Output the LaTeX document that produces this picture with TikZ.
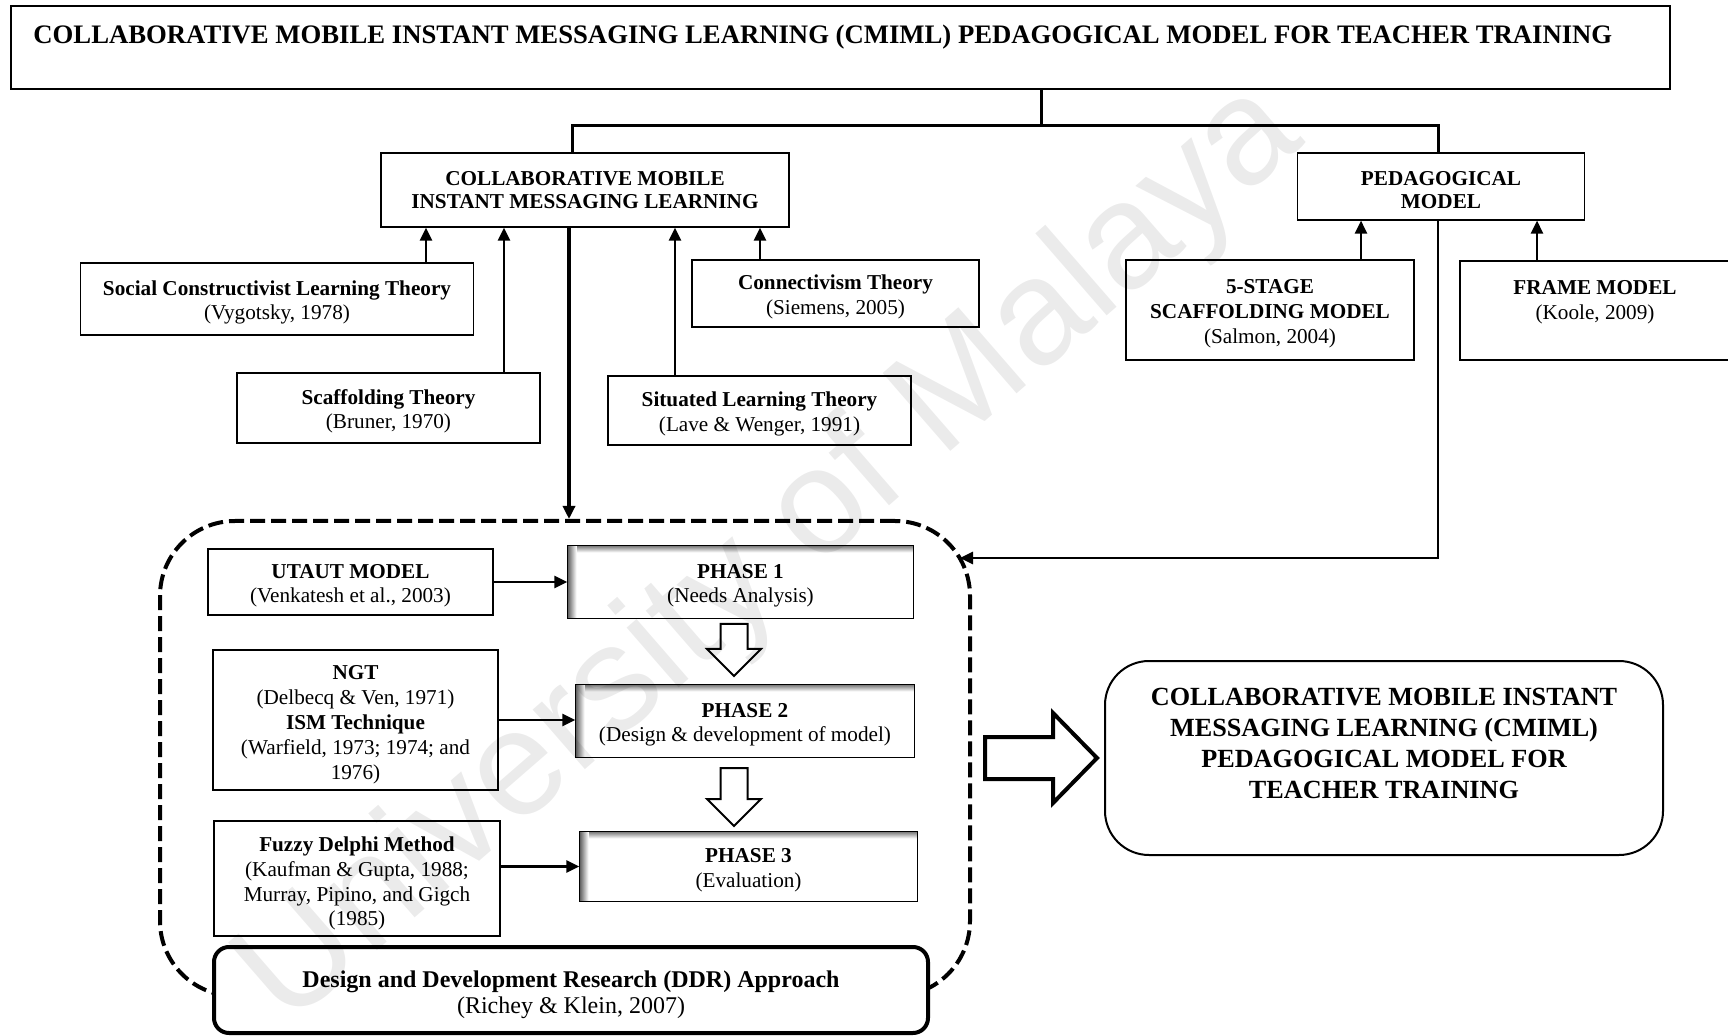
\documentclass[tikz,border=0pt]{standalone}
\usepackage{fontspec}
\setmainfont{Liberation Serif}
\newfontfamily\markfont{Liberation Sans}
\usetikzlibrary{arrows.meta}

% a strut on the first line pushes the text down a little
\newcommand{\lowered}[1][10.7pt]{\rule{0pt}{#1}}

\tikzset{
    box/.style={draw, line width=0.6pt, align=center, inner sep=0pt,
        font=\fontsize{10.6}{12.4}\selectfont},
    headbox/.style={box, font=\bfseries\fontsize{10.6}{11.5}\selectfont},
    conn/.style={line width=1.5pt},
    arr/.style={line width=1.3pt, -{Triangle[width=6pt,length=6.5pt]}},
    hollow/.style={draw, fill=white, line join=miter},
}

\begin{document}
\begin{tikzpicture}[x=0.5pt, y=-0.5pt]
    \useasboundingbox (0,0) rectangle (1728,1036);

    % The title
    \node[draw, line width=1pt, minimum width=829.5pt, minimum height=41.5pt] (titlebox) at (840.5,47.5) {};
    \node[anchor=west, inner sep=0pt, font=\bfseries\fontsize{13.35}{15}\selectfont] (title) at (33,37)
        {COLLABORATIVE MOBILE INSTANT MESSAGING LEARNING (CMIML) PEDAGOGICAL MODEL FOR TEACHER TRAINING};

    % The two parts
    \node[headbox, minimum width=204pt, minimum height=37pt] (cmil) at (585,190)
        {COLLABORATIVE MOBILE\\INSTANT MESSAGING LEARNING};
    \node[headbox, minimum width=143.5pt, minimum height=33.5pt] (ped) at (1441,186.5)
        {\lowered[10.3pt]PEDAGOGICAL\\MODEL};

    % The theories
    \node[box, minimum width=196.5pt, minimum height=36pt] (social) at (277,299)
        {\lowered\textbf{Social Constructivist Learning Theory}\\(Vygotsky, 1978)};
    \node[box, minimum width=151.5pt, minimum height=35pt] (scaff) at (388.5,408)
        {\lowered\textbf{Scaffolding Theory}\\(Bruner, 1970)};
    \node[box, minimum width=143.5pt, minimum height=33.5pt] (connect) at (835.5,293.5)
        {\lowered\textbf{Connectivism Theory}\\(Siemens, 2005)};
    \node[box, minimum width=151.5pt, minimum height=34.5pt] (situ) at (759.5,410.5)
        {\lowered\textbf{Situated Learning Theory}\\(Lave \& Wenger, 1991)};

    % The models
    \node[box, minimum width=144pt, minimum height=50pt] (stage) at (1270,310)
        {\lowered\textbf{5-STAGE}\\\textbf{SCAFFOLDING MODEL}\\(Salmon, 2004)};
    \node[box, minimum width=142.5pt, minimum height=49.5pt] (framebox) at (1602.5,310.5) {};
    \node[align=center, inner sep=0pt, font=\fontsize{10.6}{12.4}\selectfont] (frametext) at (1595,302)
        {\textbf{FRAME MODEL}\\(Koole, 2009)};

    % The DDR frame
    \node[draw, line width=2pt, dash pattern=on 7.5pt off 3pt, rounded corners=37.5pt,
        minimum width=405pt, minimum height=237.5pt] (frame) at (565,758.5) {};

    % The methods
    \node[box, minimum width=142.5pt, minimum height=33pt] (utaut) at (350.5,582)
        {\lowered\textbf{UTAUT MODEL}\\(Venkatesh et al., 2003)};
    \node[box, minimum width=142.5pt, minimum height=70pt] (ngt) at (355.5,720)
        {\lowered[11.8pt]\textbf{NGT}\\(Delbecq \& Ven, 1971)\\\textbf{ISM Technique}\\(Warfield, 1973; 1974; and\\1976)};
    \node[box, minimum width=143pt, minimum height=57.5pt] (fuzzy) at (357,878.5)
        {\lowered[12.4pt]\textbf{Fuzzy Delphi Method}\\(Kaufman \& Gupta, 1988;\\Murray, Pipino, and Gigch\\(1985)};

    % The phases
    \node[box, draw=none, minimum width=172.5pt, minimum height=36pt] (ph1) at (740.5,582)
        {\lowered\textbf{PHASE 1}\\(Needs Analysis)};
    \node[box, draw=none, minimum width=169pt, minimum height=36pt] (ph2) at (745,721)
        {\lowered\textbf{PHASE 2}\\(Design \& development of model)};
    \node[box, draw=none, minimum width=168.5pt, minimum height=34.5pt] (ph3) at (748.5,866.5)
        {\lowered\textbf{PHASE 3}\\(Evaluation)};
    \foreach \p in {ph1,ph2,ph3} {
        \shade[top color=black!55, bottom color=white] (\p.north west) rectangle ([yshift=-3.5pt]\p.north east);
        \shade[left color=black!65, right color=white] (\p.north west) rectangle ([xshift=4.5pt]\p.south west);
        \draw[line width=0.6pt] (\p.north west) rectangle (\p.south east);
    }

    \node[draw, line width=2pt, fill=white, rounded corners=7.5pt, align=center, inner sep=0pt,
        minimum width=357pt, minimum height=43pt, font=\fontsize{12}{13}\selectfont] (ddr) at (571,990)
        {\lowered[12.8pt]\textbf{Design and Development Research (DDR) Approach}\\(Richey \& Klein, 2007)};

    % The result
    \node[draw, line width=1pt, rounded corners=22pt, minimum width=279pt, minimum height=97pt] (outbox) at (1384,758) {};
    \node[align=center, inner sep=0pt, font=\bfseries\fontsize{13.1}{15.5}\selectfont] (outtext) at (1384,743)
        {COLLABORATIVE MOBILE INSTANT\\MESSAGING LEARNING (CMIML)\\PEDAGOGICAL MODEL FOR\\TEACHER TRAINING};

    % Connectors
    \coordinate (split) at (1041,126);
    \draw[conn] (titlebox.south -| split) -- (split);
    \draw[conn] ([xshift=-6.5pt]cmil.north) |- (split) -| ([xshift=-1.5pt]ped.north);

    \foreach \src/\xx in {social/426, scaff/504, situ/675, connect/760} {
        \coordinate (x\src) at (\xx,0);
        \draw[arr] (\src.north -| x\src) -- (cmil.south -| x\src);
    }
    \foreach \src/\xx in {stage/1361, framebox/1537} {
        \coordinate (x\src) at (\xx,0);
        \draw[arr] (\src.north -| x\src) -- (ped.south -| x\src);
    }

    \coordinate (xdown) at (569,0);
    \draw[arr, line width=1.6pt] (cmil.south -| xdown) -- (frame.north -| xdown);
    \coordinate (pedin) at (960,558);
    \draw[arr] ([xshift=-1.5pt]ped.south) |- (pedin);

    \draw[arr] (utaut.east) -- (ph1.west);
    \draw[arr] (ngt.east) -- (ngt.east -| ph2.west);
    \draw[arr] (ph3.west -| fuzzy.east) -- (ph3.west);

    % Block arrows
    \foreach \ya/\yb in {624/676, 768/826}
        \draw[hollow, line width=1pt] (720.5,\ya) -- (747.5,\ya) -- (747.5,\yb-27) -- (761,\yb-27)
            -- (734,\yb) -- (707,\yb-27) -- (720.5,\yb-27) -- cycle;
    \draw[hollow, line width=2pt] (985,737) -- (1053,737) -- (1053,713) -- (1097,758)
        -- (1053,803) -- (1053,779) -- (985,779) -- cycle;

    % Watermark
    \node[rotate=41, opacity=0.08, font=\markfont\fontsize{75}{75}\selectfont] (mark) at (772,556)
        {University of Malaya};
\end{tikzpicture}
\end{document}
